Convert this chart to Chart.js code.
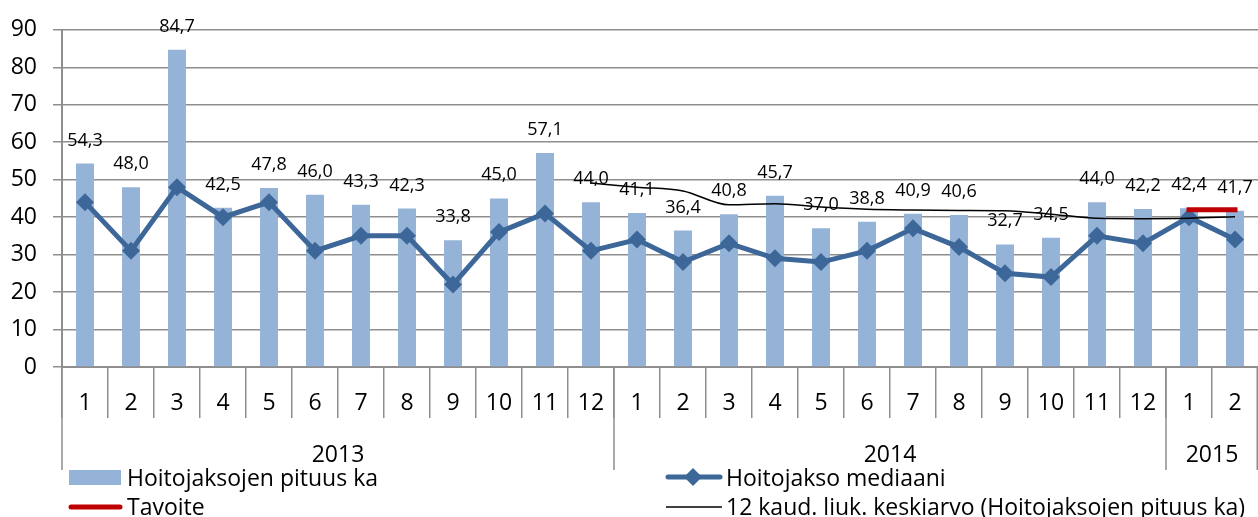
<!DOCTYPE html>
<html>
<head>
<meta charset="utf-8">
<script src="https://cdn.jsdelivr.net/npm/chart.js@4.4.0/dist/chart.umd.min.js"></script>
<style>
  html, body { margin: 0; padding: 0; background: #fff; }
  #wrap { width: 1258px; height: 517px; position: relative; }
</style>
</head>
<body>
<div id="wrap"><canvas id="chart"></canvas></div>
<script>
const months = ["1","2","3","4","5","6","7","8","9","10","11","12",
                "1","2","3","4","5","6","7","8","9","10","11","12",
                "1","2"];
const yearLabels = ["2013", "2014", "2015"];
const yearSpans = [12, 12, 2];

const avgLength = [54.3, 48.0, 84.7, 42.5, 47.8, 46.0, 43.3, 42.3, 33.8, 45.0, 57.1, 44.0,
                   41.1, 36.4, 40.8, 45.7, 37.0, 38.8, 40.9, 40.6, 32.7, 34.5, 44.0, 42.2,
                   42.4, 41.7];
const median = [44, 31, 48, 40, 44, 31, 35, 35, 22, 36, 41, 31,
                34, 28, 33, 29, 28, 31, 37, 32, 25, 24, 35, 33,
                40, 34];
const target = [null, null, null, null, null, null, null, null, null, null, null, null,
                null, null, null, null, null, null, null, null, null, null, null, null,
                42, 42];
const movingAvg = [null, null, null, null, null, null, null, null, null, null, null, 49.1,
                   48.0, 47.0, 43.3, 43.6, 42.7, 42.1, 41.9, 41.8, 41.7, 40.8, 39.7, 39.6,
                   39.7, 40.1];

const FONT = "'Open Sans', 'Liberation Sans', sans-serif";
const GRID = "#8e8e8e";

// bar value labels, x axis labels (month + year rows) and legend
const extras = {
  id: "extras",
  afterDatasetsDraw(chart) {
    const ctx = chart.ctx;
    const bars = chart.getDatasetMeta(0);
    ctx.save();
    ctx.fillStyle = "#000";
    ctx.font = "18px " + FONT;
    ctx.textAlign = "center";
    ctx.textBaseline = "alphabetic";
    bars.data.forEach((el, i) => {
      ctx.fillText(avgLength[i].toFixed(1).replace(".", ","), el.x, el.y - 18);
    });
    ctx.restore();
  },
  afterDraw(chart) {
    const ctx = chart.ctx;
    const x = chart.scales.x;
    const top = chart.chartArea.bottom;
    const half = (x.getPixelForValue(1) - x.getPixelForValue(0)) / 2;
    ctx.save();

    ctx.fillStyle = "#000";
    ctx.font = "23px " + FONT;
    ctx.textAlign = "center";
    months.forEach((m, i) => ctx.fillText(m, x.getPixelForValue(i), top + 43));

    // year groups
    ctx.strokeStyle = GRID;
    ctx.lineWidth = 1.5;
    let start = 0;
    yearLabels.forEach((y, k) => {
      const left = x.getPixelForValue(start) - half;
      const right = x.getPixelForValue(start + yearSpans[k] - 1) + half;
      ctx.beginPath();
      ctx.moveTo(left, top);
      ctx.lineTo(left, top + 103);
      ctx.stroke();
      ctx.fillText(y, (left + right) / 2, top + 95);
      start += yearSpans[k];
    });
    ctx.beginPath();
    ctx.moveTo(x.right - 0.75, top);
    ctx.lineTo(x.right - 0.75, top + 103);
    ctx.stroke();

    // legend
    const ds = chart.data.datasets;
    ctx.font = "23px " + FONT;
    ctx.textAlign = "left";
    ctx.fillStyle = ds[0].backgroundColor;
    ctx.fillRect(69, 470, 52, 15);
    ctx.fillStyle = "#000";
    ctx.fillText(ds[0].label, 127, 486);

    ctx.lineCap = "round";
    ctx.strokeStyle = ds[1].borderColor;
    ctx.lineWidth = 5;
    ctx.beginPath(); ctx.moveTo(668, 477); ctx.lineTo(720, 477); ctx.stroke();
    ctx.fillStyle = ds[1].borderColor;
    ctx.beginPath();
    ctx.moveTo(693, 468); ctx.lineTo(702, 477); ctx.lineTo(693, 486); ctx.lineTo(684, 477);
    ctx.closePath(); ctx.fill();
    ctx.fillStyle = "#000";
    ctx.fillText(ds[1].label, 726, 486);

    ctx.strokeStyle = ds[2].borderColor;
    ctx.beginPath(); ctx.moveTo(71, 507); ctx.lineTo(120, 507); ctx.stroke();
    ctx.fillText(ds[2].label, 127, 515);

    ctx.lineCap = "butt";
    ctx.strokeStyle = ds[3].borderColor;
    ctx.lineWidth = 1.5;
    ctx.beginPath(); ctx.moveTo(666, 507); ctx.lineTo(722, 507); ctx.stroke();
    ctx.fillText(ds[3].label, 726, 515);

    ctx.restore();
  }
};

new Chart(document.getElementById("chart"), {
  data: {
    labels: months,
    datasets: [
      {
        type: "bar",
        label: "Hoitojaksojen pituus ka",
        data: avgLength,
        backgroundColor: "#95b3d7",
        barPercentage: 0.39,
        categoryPercentage: 1,
        order: 4
      },
      {
        type: "line",
        label: "Hoitojakso mediaani",
        data: median,
        borderColor: "#3c6798",
        backgroundColor: "#3c6798",
        borderWidth: 5,
        pointStyle: "rectRot",
        pointRadius: 9,
        pointBorderWidth: 0,
        order: 3
      },
      {
        type: "line",
        label: "Tavoite",
        data: target,
        borderColor: "#c00000",
        borderWidth: 5,
        borderCapStyle: "square",
        pointRadius: 0,
        order: 2
      },
      {
        type: "line",
        label: "12 kaud. liuk. keskiarvo (Hoitojaksojen pituus ka)",
        data: movingAvg,
        borderColor: "#000",
        borderWidth: 1.5,
        pointRadius: 0,
        cubicInterpolationMode: "monotone",
        order: 1
      }
    ]
  },
  options: {
    responsive: true,
    maintainAspectRatio: false,
    animation: false,
    layout: { autoPadding: false, padding: { top: 28, right: 0, bottom: 0, left: 0 } },
    plugins: {
      legend: { display: false },
      tooltip: { enabled: false }
    },
    scales: {
      x: {
        offset: true,
        grid: {
          display: true,
          drawOnChartArea: false,
          offset: true,
          tickLength: 51,
          color: GRID,
          lineWidth: 1.5
        },
        border: { color: GRID, width: 2 },
        ticks: { display: false },
        afterFit: (s) => { s.height = 150; }
      },
      y: {
        min: 0,
        max: 90,
        ticks: {
          stepSize: 10,
          color: "#000",
          padding: 16,
          font: { family: FONT, size: 23 }
        },
        grid: { color: GRID, lineWidth: 1.5, tickLength: 9 },
        border: { color: GRID, width: 2 },
        afterFit: (s) => { s.width = 62; }
      }
    }
  },
  plugins: [extras]
});
</script>
</body>
</html>
